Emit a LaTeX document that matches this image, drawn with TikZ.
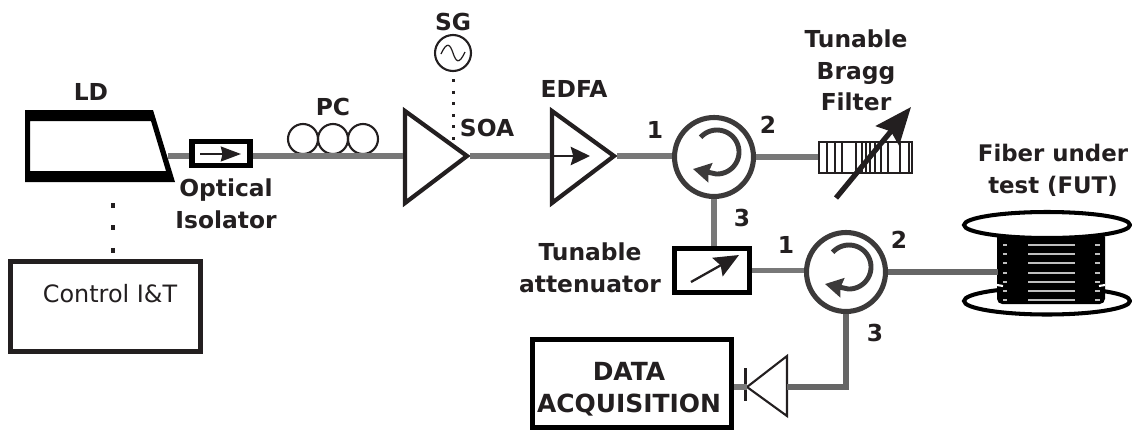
\documentclass[tikz,border=0pt]{standalone}
\usepackage{fontspec}
\setmainfont{DejaVu Sans}
\usepackage{xcolor}
\usetikzlibrary{positioning,arrows.meta}
\definecolor{fibergray}{HTML}{787878}
\definecolor{inkdark}{HTML}{231F20}
\definecolor{circdark}{HTML}{3C3A3A}
\tikzset{
    lbl/.style={font=\bfseries\fontsize{13.3}{17.9}\selectfont, text=inkdark, align=center, inner sep=0pt},
    fiber/.style={draw=fibergray, line width=2.9pt},
    amp/.style={draw=inkdark, line width=2.4pt, fill=white, line join=miter},
    circulator/.style={draw=circdark, circle, line width=2.9pt, minimum size=1.58cm, inner sep=0pt, fill=white},
    boxthick/.style={draw=black, rectangle, line width=2.9pt, fill=white, inner sep=0pt}
}
\begin{document}
\begin{tikzpicture}[x=0.02cm, y=-0.02cm]
    \useasboundingbox (0,0) rectangle (1132,430);

    % LD
    \coordinate (LDout) at (168,156);
    \fill[black, even odd rule] (25,110) -- (153,110) -- (175,182) -- (25,182) -- cycle
        (30,121) -- (151,121) -- (166,171) -- (30,171) -- cycle;
    \coordinate (LDbot) at (113,182);
    \node [lbl] (LDlabel) at (91,92) {LD};
    \node [boxthick, draw=inkdark, minimum width=3.8cm, minimum height=1.8cm] (Ctrl) at (105.5,306.5) {};
    \node [text=inkdark, font=\fontsize{13.6}{15}\selectfont, inner sep=0pt] (CtrlText) at (110,294) {Control I\&T};
    \draw [line width=2.8pt, dash pattern=on 2.8pt off 10pt, inkdark] (LDbot) ++(0,21) -- (Ctrl.north -| LDbot);

    % isolator, PC
    \node [boxthick, minimum width=1.16cm, minimum height=0.48cm] (Iso) at (221,153.5) {};
    \draw [inkdark, line width=1pt, -{Stealth[length=11.5pt, width=8.5pt, inset=1pt]}] (200,154) -- (241,154);
    \node [lbl] (IsoLabel) at (226,204) {Optical\\Isolator};
    \foreach \nm/\px in {PCa/303, PCb/333, PCc/363}
        \node [draw=inkdark, circle, line width=1.2pt, minimum size=0.6cm, inner sep=0pt] (\nm) at (\px,139) {};
    \node [lbl] (PClabel) at (333,107) {PC};

    % SOA and EDFA
    \draw [amp] (405,111) -- (405,203) -- (467,156) -- cycle;
    \coordinate (SOAin) at (403,156);
    \coordinate (SOAout) at (470,156);
    \node [lbl] (SOAlabel) at (487,128) {SOA};
    \draw [amp] (552,111) -- (552,203) -- (614,156) -- cycle;
    \coordinate (EDFAin) at (550,156);
    \coordinate (EDFAout) at (617,156);
    \draw [inkdark, line width=1pt, -{Stealth[length=11pt, width=10.5pt, inset=1.5pt]}] (552,156) -- (590,156);
    \node [lbl] (EDFAlabel) at (574,89) {EDFA};

    % SG
    \node [draw=inkdark, circle, line width=1.2pt, minimum size=0.72cm, inner sep=0pt] (SG) at (453,53) {};
    \draw [inkdark, line width=0.7pt] (441,54) .. controls (447,41) and (450,44) .. (453,53) .. controls (456,62) and (459,65) .. (465,52);
    \node [lbl] (SGlabel) at (453,22) {SG};
    \draw [inkdark, line width=1.7pt, dash pattern=on 1.7pt off 4.9pt] (SG.south) ++(0,7) -- ++(0,62);

    % circulators
    \foreach \nm/\cx/\cy in {CircA/714/157, CircB/846/272} {
        \node [circulator] (\nm) at (\cx,\cy) {};
        \draw [circdark, line width=2.8pt, -{Stealth[length=10pt, width=11pt, inset=1pt]}]
            plot [domain=138:-92, samples=40] ({\cx+3+22*cos(\x)},{\cy-5-22*sin(\x)}) -- (\cx-21,\cy+12);
    }
    \node [lbl] (Pa1) at (655,130) {1};
    \node [lbl] (Pa2) at (768,125) {2};
    \node [lbl] (Pa3) at (742,218) {3};
    \node [lbl] (Pb1) at (786,245) {1};
    \node [lbl] (Pb2) at (899,240) {2};
    \node [lbl] (Pb3) at (875,333) {3};

    % Bragg filter
    \node [draw=inkdark, rectangle, line width=1.2pt, minimum width=1.86cm, minimum height=0.62cm, inner sep=0pt] (FBG) at (865.5,157.5) {};
    \foreach \gx in {827,835,842,856,862,866,870,875,881,888,900,909}
        \draw [inkdark, line width=0.8pt] (\gx,142) -- (\gx,173);
    \coordinate (TuneA) at (836,198);
    \coordinate (TuneB) at (911,107);
    \draw [inkdark, line width=3pt, -{Stealth[length=21pt, width=17pt, inset=3pt]}] (TuneA) -- (TuneB);
    \node [lbl] (FBGlabel) at (856,70.5) {Tunable\\Bragg\\Filter};

    % attenuator
    \node [boxthick, minimum width=1.5cm, minimum height=0.88cm] (Att) at (712,270.5) {};
    \draw [inkdark, line width=1.3pt, -{Stealth[length=14pt, width=12pt, inset=2pt]}] (691,282) -- (739,255);
    \node [lbl] (AttLabel) at (590,268) {Tunable\\attenuator};

    % spool
    \draw [black, line width=2.3pt] (1047,301) ellipse [x radius=83, y radius=13.5];
    \fill [black, rounded corners=3pt] (997,232) rectangle (1105,304);
    \foreach \ly in {245,254,263,273,282,291,300} {
        \draw [black!25, line width=0.6pt] (1028,\ly) -- (1075,\ly);
        \draw [black!25, line width=0.6pt] (1003,\ly) -- (1007,\ly);
        \draw [black!25, line width=0.6pt] (1095,\ly) -- (1100,\ly);
    }
    \draw [white, line width=1.2pt] (997,285) -- (1003,286);
    \draw [white, line width=1.2pt] (1099,286) -- (1105,285);
    \draw [black, line width=2.3pt, fill=white] (1047,225) ellipse [x radius=83, y radius=13];
    \coordinate (Spool) at (998,272);
    \node [lbl, font=\bfseries\fontsize{13}{17.9}\selectfont] (FUTlabel) at (1053,170.5) {Fiber under\\test (FUT)};

    % data acquisition and diode
    \node [boxthick, minimum width=3.98cm, minimum height=1.76cm] (DAQ) at (632,383.5) {};
    \node [lbl, font=\bfseries\fontsize{14.2}{17.9}\selectfont] (DAQlabel) at (629,389) {DATA\\ACQUISITION};
    \coordinate (PDa) at (787,387);
    \coordinate (PDb) at (747,387);
    \draw [inkdark, line width=1.2pt] (787,356) -- (787,416) -- (PDb) -- cycle;
    \draw [inkdark, line width=1.7pt] (745,368) -- (745,401);

    % fibers
    \draw [fiber] (LDout) -- (LDout -| Iso.west);
    \draw [fiber] (SOAin -| Iso.east) -- (SOAin);
    \draw [fiber] (SOAout) -- (EDFAin);
    \draw [fiber] (EDFAout) -- (EDFAout -| CircA.west);
    \draw [fiber] (CircA.east) -- (CircA.east -| FBG.west);
    \draw [fiber] (CircA.south) -- (CircA.south |- Att.north);
    \draw [fiber] (Att.east) -- (Att.east -| CircB.west);
    \draw [fiber, draw=fibergray!85!black] (CircB.east) -- (CircB.east -| Spool);
    \draw [fiber, draw=fibergray!85!black] (CircB.south) |- (PDa);
    \draw [fiber] (PDb) -- (PDb -| DAQ.east);
\end{tikzpicture}
\end{document}
